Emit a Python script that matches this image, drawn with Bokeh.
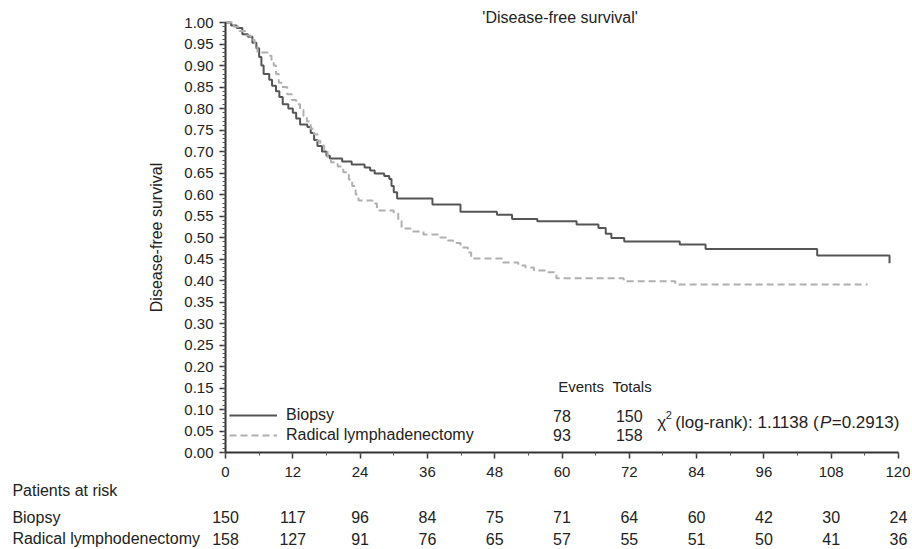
from bokeh.plotting import figure
from bokeh.models import (Range1d, SingleIntervalTicker, PrintfTickFormatter, Label,
                          LabelSet, ColumnDataSource, Legend, LegendItem)
from bokeh.embed import file_html
from bokeh.resources import INLINE
from bokeh.core.properties import value

# ---------------- data ----------------
biopsy_t = [0, 1.0, 2.0, 3.0, 4.0, 4.8, 5.5, 6.0, 6.4, 6.8, 7.8, 8.3, 9.0, 9.6, 10.2,
            11.2, 12.0, 12.6, 13.3, 14.6, 15.2, 15.8, 16.4, 17.2, 18.0, 18.6, 20.8, 22.5,
            24.8, 25.8, 26.6, 28.3, 29.2, 29.6, 30.0, 30.6, 36.9, 41.9, 48.4, 51.1, 55.6,
            62.6, 66.5, 67.8, 68.8, 71.1, 81.0, 85.6, 105.5, 118.4]
biopsy_s = [1.0, 0.993, 0.987, 0.973, 0.967, 0.953, 0.94, 0.92, 0.90, 0.88, 0.867, 0.853,
            0.84, 0.827, 0.81, 0.80, 0.79, 0.777, 0.763, 0.757, 0.743, 0.727, 0.713, 0.70,
            0.69, 0.684, 0.677, 0.670, 0.663, 0.656, 0.649, 0.643, 0.636, 0.62, 0.605,
            0.591, 0.577, 0.560, 0.553, 0.543, 0.538, 0.530, 0.522, 0.509, 0.499, 0.491,
            0.484, 0.473, 0.458, 0.440]

radical_t = [0, 1.5, 2.5, 3.5, 4.5, 5.2, 5.7, 7.5, 8.2, 8.6, 9.0, 9.5, 10.0, 11.0, 11.8,
             12.6, 13.3, 13.9, 14.5, 15.2, 15.8, 16.4, 16.9, 17.6, 18.2, 18.8, 20.0, 21.0,
             22.0, 22.6, 23.2, 23.7, 26.2, 27.0, 30.0, 30.8, 31.4, 33.0, 35.3, 38.3, 39.6,
             40.6, 41.9, 43.2, 43.8, 49.5, 52.2, 53.5, 55.0, 57.0, 59.0, 71.0, 80.2, 114.5]
radical_s = [1.0, 0.99, 0.98, 0.97, 0.96, 0.945, 0.93, 0.923, 0.91, 0.90, 0.88, 0.86, 0.85,
             0.833, 0.82, 0.81, 0.797, 0.783, 0.77, 0.753, 0.74, 0.725, 0.714, 0.70, 0.687,
             0.675, 0.665, 0.652, 0.635, 0.62, 0.60, 0.586, 0.579, 0.563, 0.556, 0.54,
             0.521, 0.514, 0.507, 0.500, 0.493, 0.487, 0.477, 0.465, 0.451, 0.442, 0.435,
             0.430, 0.423, 0.419, 0.405, 0.398, 0.391, 0.391]

risk_times = [0, 12, 24, 36, 48, 60, 72, 84, 96, 108, 120]
risk_biopsy = [150, 117, 96, 84, 75, 71, 64, 60, 42, 30, 24]
risk_radical = [158, 127, 91, 76, 65, 57, 55, 51, 50, 41, 36]
risk_rows = ["Biopsy", "Radical lymphodenectomy"]

groups = ["Biopsy", "Radical lymphadenectomy"]
events = [78, 93]
totals = [150, 158]
chi2_text = "(log-rank): 1.1138 ("
p_text = "=0.2913)"

FONT = "Liberation Sans"
TXT = "#222222"

# frame covers the whole canvas; axes are pinned at x=0 / y=0
p = figure(width=910, height=547, output_backend="svg", toolbar_location=None,
           x_range=Range1d(-40.12, 122.14), y_range=Range1d(-0.2209, 1.0512),
           min_border_left=0, min_border_right=0, min_border_top=0, min_border_bottom=0)
p.title.visible = False
p.outline_line_color = None
p.xgrid.grid_line_color = None
p.ygrid.grid_line_color = None
p.background_fill_color = "white"

# axes
p.xaxis.ticker = SingleIntervalTicker(interval=12, num_minor_ticks=2)
p.yaxis.ticker = SingleIntervalTicker(interval=0.05, num_minor_ticks=5)
p.yaxis.formatter = PrintfTickFormatter(format="%.2f")
p.xaxis.fixed_location = 0
p.yaxis.fixed_location = 0
p.xaxis.bounds = (0, 120)
p.yaxis.bounds = (0, 1.0)
for ax in (p.xaxis[0], p.yaxis[0]):
    ax.axis_line_width = 2
    ax.axis_line_color = "#333333"
    ax.major_tick_line_color = "#333333"
    ax.minor_tick_line_color = "#555555"
    ax.major_tick_line_width = 1.5
    ax.major_tick_out = 6
    ax.major_tick_in = 0
    ax.minor_tick_out = 3
    ax.minor_tick_in = 0
    ax.major_label_text_font = FONT
    ax.major_label_text_font_size = "15px"
    ax.major_label_text_color = TXT
p.xaxis.major_label_standoff = 8
p.yaxis.major_label_standoff = 6
p.yaxis.axis_label = "Disease-free survival"
p.yaxis.axis_label_text_font = FONT
p.yaxis.axis_label_text_font_size = "16px"
p.yaxis.axis_label_text_font_style = "normal"
p.yaxis.axis_label_text_color = TXT
p.yaxis.axis_label_standoff = 16

# curves
r1 = p.step(biopsy_t, biopsy_s, mode="after", line_color="#555555", line_width=2)
r2 = p.step(radical_t, radical_s, mode="after", line_color="#b0b0b0", line_width=2,
            line_dash="7 4")

legend = Legend(items=[LegendItem(label=groups[0], renderers=[r1]),
                       LegendItem(label=groups[1], renderers=[r2])],
                location=(229, 102), padding=0, spacing=0, margin=0,
                glyph_width=48, glyph_height=20, label_height=20, label_standoff=9,
                label_text_font=FONT, label_text_font_size="16px", label_text_color=TXT,
                background_fill_alpha=0, border_line_color=None)
p.add_layout(legend)

# events / totals table
ev_src = ColumnDataSource(dict(x=[60, 60], y=[0.086, 0.040], text=[str(v) for v in events]))
tot_src = ColumnDataSource(dict(x=[72, 72], y=[0.086, 0.040], text=[str(v) for v in totals]))
for src in (ev_src, tot_src):
    p.add_layout(LabelSet(x="x", y="y", text="text", source=src, text_align="center",
                          text_baseline="middle", text_font=value(FONT),
                          text_font_size="16px", text_color=TXT))
p.add_layout(Label(x=63.4, y=0.153, text="Events", text_align="center", text_baseline="middle",
                   text_font=FONT, text_font_size="15px", text_color=TXT))
p.add_layout(Label(x=72.5, y=0.153, text="Totals", text_align="center", text_baseline="middle",
                   text_font=FONT, text_font_size="15px", text_color=TXT))

# chi-square text
p.add_layout(Label(x=77.0, y=0.07, text="\u03c7", text_align="left", text_baseline="middle",
                   text_font=FONT, text_font_size="17px", text_color=TXT))
p.add_layout(Label(x=78.5, y=0.087, text="2", text_align="left", text_baseline="middle",
                   text_font=FONT, text_font_size="11px", text_color=TXT))
p.add_layout(Label(x=80.2, y=0.07, text=chi2_text, text_align="left", text_baseline="middle",
                   text_font=FONT, text_font_size="17px", text_color=TXT))
p.add_layout(Label(x=106.0, y=0.07, text="P", text_align="left", text_baseline="middle",
                   text_font=FONT, text_font_size="17px", text_font_style="italic",
                   text_color=TXT))
p.add_layout(Label(x=108.1, y=0.07, text=p_text, text_align="left", text_baseline="middle",
                   text_font=FONT, text_font_size="17px", text_color=TXT))

# title inside
p.add_layout(Label(x=45.8, y=1.0116, text="'Disease-free survival'", text_align="left",
                   text_baseline="middle", text_font=FONT, text_font_size="16px",
                   text_color=TXT))

# patients at risk table
p.add_layout(Label(x=-38, y=-0.088, text="Patients at risk", text_align="left",
                   text_baseline="middle", text_font=FONT, text_font_size="16px",
                   text_color=TXT))
row_y = [-0.151, -0.200]
for name, counts, yy in zip(risk_rows, [risk_biopsy, risk_radical], row_y):
    p.add_layout(Label(x=-38, y=yy, text=name, text_align="left", text_baseline="middle",
                       text_font=FONT, text_font_size="16px", text_color=TXT))
    src = ColumnDataSource(dict(x=risk_times, y=[yy] * len(risk_times),
                                text=[str(c) for c in counts]))
    p.add_layout(LabelSet(x="x", y="y", text="text", source=src, text_align="center",
                          text_baseline="middle", text_font=value(FONT),
                          text_font_size="16px", text_color=TXT))

open("out.html", "w").write(file_html(p, INLINE))
